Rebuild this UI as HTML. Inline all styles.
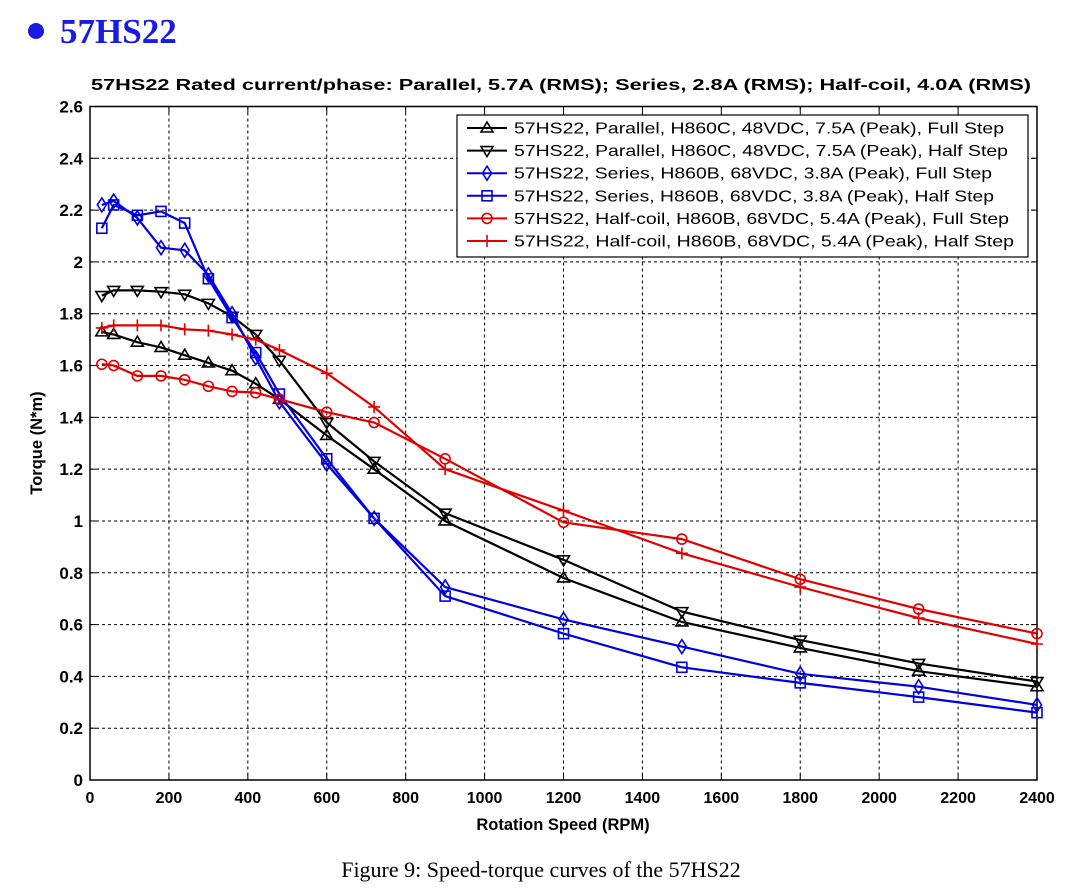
<!DOCTYPE html>
<html><head><meta charset="utf-8"><style>
body{margin:0;background:#fff;width:1084px;height:888px;overflow:hidden}
svg{display:block}
</style></head><body>
<svg id="s" width="1084" height="888" xmlns="http://www.w3.org/2000/svg" font-family="Liberation Sans, Arial, sans-serif">
<circle cx="36" cy="31" r="8" fill="#1a1ae6"/>
<text x="60" y="43" font-family="Liberation Serif, serif" font-weight="bold" font-size="35" fill="#1a1ae6">57HS22</text>
<text x="561" y="90" text-anchor="middle" font-weight="bold" font-size="15.5" textLength="940" lengthAdjust="spacingAndGlyphs">57HS22 Rated current/phase: Parallel, 5.7A (RMS); Series, 2.8A (RMS); Half-coil, 4.0A (RMS)</text>
<text x="541" y="877" text-anchor="middle" font-family="Liberation Serif, serif" font-size="22">Figure 9: Speed-torque curves of the 57HS22</text>
<text x="563" y="830" text-anchor="middle" font-weight="bold" font-size="16.5">Rotation Speed (RPM)</text>
<text transform="translate(42,443) rotate(-90)" text-anchor="middle" font-weight="bold" font-size="16.5">Torque (N*m)</text>
<g id="g"></g>
</svg>
<script>
const X0=90,X1=1037,Y0=780,YT=106.5;
const fx=v=>X0+(X1-X0)*v/2400, fy=v=>Y0-(Y0-YT)*v/2.6;
const g=document.getElementById('g');let h='';
for(let i=1;i<12;i++){const x=fx(i*200);h+=`<line x1="${x}" y1="${YT}" x2="${x}" y2="${Y0}" stroke="#000" stroke-width="1" stroke-dasharray="3,3"/>`;}
for(let i=1;i<13;i++){const y=fy(i*0.2);h+=`<line x1="${X0}" y1="${y}" x2="${X1}" y2="${y}" stroke="#000" stroke-width="1" stroke-dasharray="3,3"/>`;}
h+=`<rect x="${X0}" y="${YT}" width="${X1-X0}" height="${Y0-YT}" fill="none" stroke="#000" stroke-width="1.5"/>`;
for(let i=0;i<=12;i++){const x=fx(i*200);h+=`<text x="${x}" y="803" text-anchor="middle" font-weight="bold" font-size="16">${i*200}</text>`;h+=`<line x1="${x}" y1="${Y0}" x2="${x}" y2="${Y0-6}" stroke="#000"/><line x1="${x}" y1="${YT}" x2="${x}" y2="${YT+6}" stroke="#000"/>`;}
for(let i=0;i<=13;i++){const v=i*0.2,y=fy(v);let t=(Math.round(v*10)/10).toString();h+=`<text x="83" y="${y+6}" text-anchor="end" font-weight="bold" font-size="17">${t}</text>`;h+=`<line x1="${X0}" y1="${y}" x2="${X0+6}" y2="${y}" stroke="#000"/><line x1="${X1}" y1="${y}" x2="${X1-6}" y2="${y}" stroke="#000"/>`;}
const xs=[30,60,120,180,240,300,360,420,480,600,720,900,1200,1500,1800,2100,2400];
const S=[
{c:'#000',m:'tu',d:[1.73,1.72,1.69,1.67,1.64,1.61,1.58,1.53,1.47,1.33,1.20,1.00,0.78,0.61,0.51,0.42,0.36],l:'57HS22, Parallel, H860C, 48VDC, 7.5A (Peak), Full Step'},
{c:'#000',m:'td',d:[1.87,1.89,1.89,1.885,1.875,1.84,1.79,1.72,1.62,1.38,1.23,1.03,0.85,0.65,0.54,0.45,0.38],l:'57HS22, Parallel, H860C, 48VDC, 7.5A (Peak), Half Step'},
{c:'#0000dd',m:'di',d:[2.22,2.235,2.17,2.055,2.045,1.95,1.80,1.63,1.46,1.22,1.01,0.745,0.62,0.515,0.41,0.36,0.29],l:'57HS22, Series, H860B, 68VDC, 3.8A (Peak), Full Step'},
{c:'#0000dd',m:'sq',d:[2.13,2.22,2.18,2.195,2.15,1.935,1.785,1.65,1.49,1.24,1.01,0.71,0.565,0.435,0.375,0.32,0.26],l:'57HS22, Series, H860B, 68VDC, 3.8A (Peak), Half Step'},
{c:'#e00000',m:'ci',d:[1.605,1.60,1.56,1.56,1.545,1.52,1.50,1.495,1.47,1.42,1.38,1.24,0.995,0.93,0.775,0.66,0.565],l:'57HS22, Half-coil, H860B, 68VDC, 5.4A (Peak), Full Step'},
{c:'#e00000',m:'pl',d:[1.745,1.755,1.755,1.755,1.74,1.735,1.72,1.70,1.66,1.57,1.44,1.20,1.04,0.875,0.745,0.625,0.525],l:'57HS22, Half-coil, H860B, 68VDC, 5.4A (Peak), Half Step'}];
function mk(m,x,y,c){const a=`fill="none" stroke="${c}" stroke-width="1.6"`;
 if(m=='tu')return `<polygon points="${x},${y-6} ${x-6},${y+4} ${x+6},${y+4}" ${a}/>`;
 if(m=='td')return `<polygon points="${x},${y+6} ${x-6},${y-4} ${x+6},${y-4}" ${a}/>`;
 if(m=='di')return `<polygon points="${x},${y-7} ${x-4.5},${y} ${x},${y+7} ${x+4.5},${y}" ${a}/>`;
 if(m=='sq')return `<rect x="${x-5}" y="${y-5}" width="10" height="10" ${a}/>`;
 if(m=='ci')return `<circle cx="${x}" cy="${y}" r="5" ${a}/>`;
 return `<path d="M${x-6} ${y}H${x+6}M${x} ${y-6}V${y+6}" ${a}/>`;}
S.forEach(s=>{const p=xs.map((x,i)=>fx(x).toFixed(1)+','+fy(s.d[i]).toFixed(1)).join(' ');
 h+=`<polyline points="${p}" fill="none" stroke="${s.c}" stroke-width="2.2"/>`;
 xs.forEach((x,i)=>h+=mk(s.m,fx(x),fy(s.d[i]),s.c));});
h+=`<rect x="457" y="115" width="571" height="142" fill="#fff" stroke="#000" stroke-width="1.2"/>`;
S.forEach((s,i)=>{const y=128+i*22.6;h+=`<line x1="467" y1="${y}" x2="507" y2="${y}" stroke="${s.c}" stroke-width="2"/>`+mk(s.m,487,y,s.c)+`<text x="514" y="${y+5.5}" font-size="16" textLength="${[490,494,478,480,495,500][i]}" lengthAdjust="spacingAndGlyphs">${s.l}</text>`;});
g.innerHTML=h;
</script>
</body></html>
